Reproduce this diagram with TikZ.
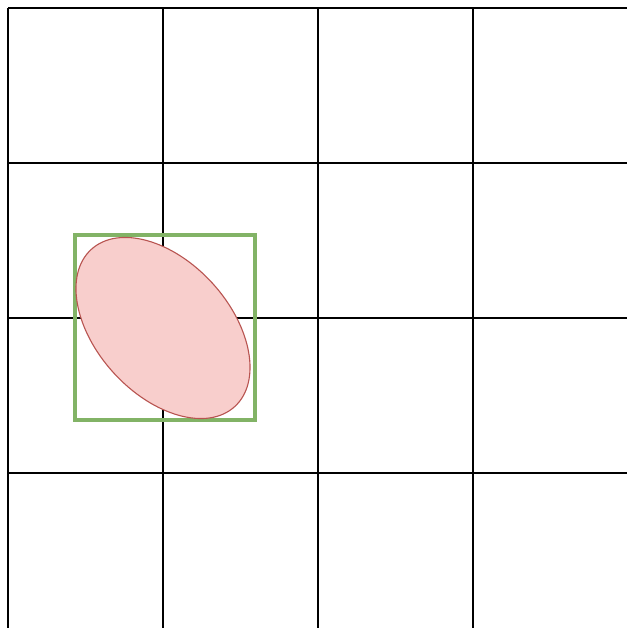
\documentclass[tikz,border=0pt]{standalone}
\begin{document}
\begin{tikzpicture}[x=1pt,y=1pt,
  gridline/.style={draw=black,line width=1.7pt},
  greenbox/.style={draw={rgb,255:red,130;green,179;blue,102},line width=3.2pt},
  redell/.style={draw={rgb,255:red,184;green,84;blue,80},fill={rgb,255:red,248;green,206;blue,204},line width=1.1pt}]
\useasboundingbox (0,0) rectangle (627,628);
\fill[white] (0,0) rectangle (627,628);
\foreach \px in {8,163,318,473}{
  \draw[gridline] (\px,0) -- (\px,620);
}
\foreach \py in {8,163,318,473}{
  \draw[gridline] (8,628-\py) -- (627,628-\py);
}
\node[greenbox,minimum width=180pt,minimum height=185pt,inner sep=0pt,outer sep=0pt] (box) at (165,628-327.5) {};
\draw[redell,rotate around={-47.6:(163,628-328)}] (163,628-328) ellipse [x radius=106.4pt, y radius=66.7pt];
\end{tikzpicture}
\end{document}
